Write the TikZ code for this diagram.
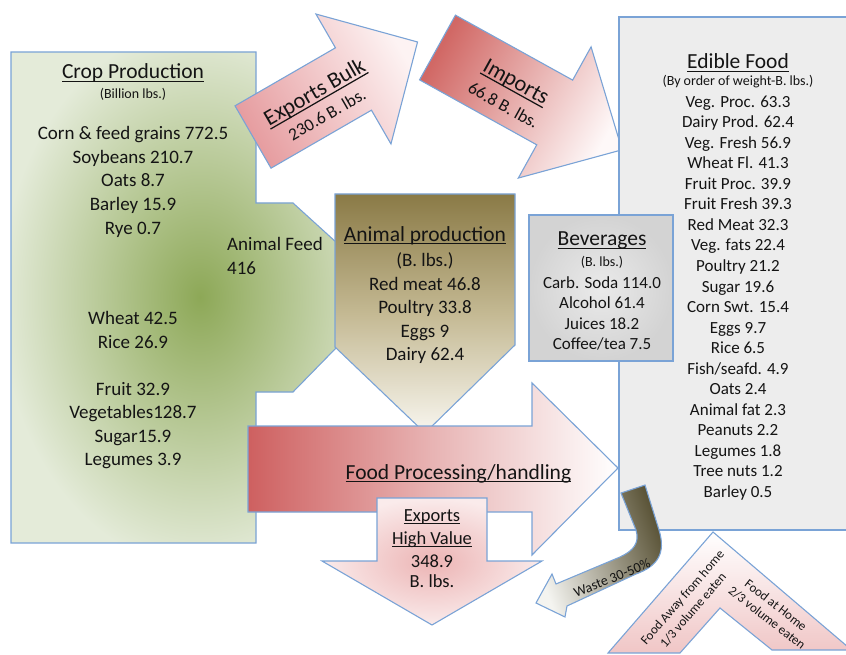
\documentclass[tikz,border=0pt]{standalone}
\usepackage{fontspec}
\setmainfont{Carlito}
\usetikzlibrary{shadings}
\definecolor{bline}{HTML}{7AA3D6}
\definecolor{tcol}{HTML}{141414}
\definecolor{cropin}{HTML}{8DA857}
\definecolor{cropout}{HTML}{E4EBD9}
\definecolor{edible}{HTML}{EDEDED}
\definecolor{bevin}{HTML}{EAEAEA}
\definecolor{bevout}{HTML}{D3D3D3}
\definecolor{animtop}{HTML}{8A7A46}
\definecolor{animmid}{HTML}{C4B993}
\definecolor{animbot}{HTML}{F8F6EF}
\definecolor{fpl}{HTML}{CE6060}
\definecolor{fpm}{HTML}{E8B4B4}
\definecolor{fpr}{HTML}{FFFFFF}
\definecolor{ebl}{HTML}{E69DA0}
\definecolor{ebr}{HTML}{FDF3F3}
\definecolor{iml}{HTML}{D16865}
\definecolor{imr}{HTML}{FEF8F8}
\definecolor{ehin}{HTML}{ECB4B4}
\definecolor{ehout}{HTML}{FAEBEB}
\definecolor{wdark}{HTML}{575033}
\definecolor{wlight}{HTML}{F4F4F0}
\definecolor{chtop}{HTML}{FFFFFF}
\definecolor{chbot}{HTML}{F0C6C6}
\newcommand{\ulx}[1]{\setbox0=\hbox{#1}\rlap{\rule[-0.16em]{\wd0}{0.055em}}\box0}
\newcommand{\szTitle}{\fontsize{21.5}{24}\selectfont}
\newcommand{\szArrow}{\fontsize{22.5}{26}\selectfont}
\newcommand{\szBig}{\fontsize{19}{22}\selectfont}
\newcommand{\szEH}{\fontsize{18.5}{22}\selectfont}
\newcommand{\szMid}{\fontsize{17}{20}\selectfont}
\newcommand{\szArrowSub}{\fontsize{17.5}{20}\selectfont}
\newcommand{\szSmall}{\fontsize{14}{16}\selectfont}
\newcommand{\szTiny}{\fontsize{13}{15.5}\selectfont}
\tikzset{
  edge/.style={draw=bline, line width=1.1pt, line join=miter},
  txt/.style={inner sep=0pt, text=tcol, anchor=base},
  rtxt/.style={inner sep=0pt, text=tcol, anchor=center},
}
\begin{document}
\begin{tikzpicture}[x=1pt,y=-1pt]
\useasboundingbox (0,0) rectangle (846,655);

% ---------- Crop production (green) ----------
\begin{scope}
  \clip (11,52) -- (256,52) -- (256,203) -- (293,203) -- (337,243) -- (337,347)
        -- (293,392) -- (256,392) -- (256,543) -- (11,543) -- cycle;
  \fill[cropout] (0,40) rectangle (350,560);
  \shade[inner color=cropin, outer color=cropout] (200,297) ellipse (200 and 270);
\end{scope}
\draw[edge] (11,52) -- (256,52) -- (256,203) -- (293,203) -- (337,243) -- (337,347)
        -- (293,392) -- (256,392) -- (256,543) -- (11,543) -- cycle;

% ---------- Exports bulk arrow ----------
\begin{scope}[shift={(253,137)}, rotate=30]
  \path[edge, left color=ebl, right color=ebr, shading angle=120]
    (0,-36) -- (116,-36) -- (116,-75) -- (190,0) -- (116,75) -- (116,36) -- (0,36) -- cycle;
\end{scope}

% ---------- Imports arrow ----------
\begin{scope}[shift={(437.5,47.5)}, rotate=-29]
  \path[edge, left color=iml, right color=imr, shading angle=61]
    (0,-37) -- (134,-37) -- (134,-75) -- (211,0) -- (134,75) -- (134,37) -- (0,37) -- cycle;
\end{scope}

% ---------- Edible food box ----------
\path[edge, fill=edible] (619,17) rectangle (852,530);

% ---------- Beverages ----------
\path[edge, inner color=bevin, outer color=bevout] (529,215) rectangle (673,361);

% ---------- Animal production ----------
\path[edge, top color=animtop, bottom color=animbot, middle color=animmid]
  (335,194) -- (515,194) -- (515,345) -- (425,433) -- (335,347) -- cycle;

% ---------- Food processing arrow ----------
\path[edge, left color=fpl, right color=fpr, middle color=fpm]
  (248,426) -- (532,426) -- (532,383) -- (618,468) -- (532,555) -- (532,512) -- (248,512) -- cycle;

% ---------- Exports high value ----------
\path[edge, inner color=ehin, outer color=ehout]
  (377,498) -- (487,498) -- (487,561) -- (542,561) -- (432,625) -- (322,561) -- (377,561) -- cycle;

% ---------- Waste arrow ----------
\path[edge, left color=wlight, right color=wdark, shading angle=110]
  (621,493) -- (645,485) -- (659,530) .. controls (666,553) and (658,566) .. (636,574)
  -- (567,606) -- (565,617) -- (536,603) -- (552,574) -- (556,584)
  -- (620,557) .. controls (633,551) and (640,543) .. (636,530) -- cycle;

% ---------- Home chevron ----------
\path[edge, top color=chtop, bottom color=chbot]
  (608,653) -- (713,532) -- (848,647) -- (848,650) -- (772,650) -- (720,608) -- (680,653) -- cycle;

% ---------- Crop texts ----------
\node[txt, font=\szTitle] (cropT) at (133,79) {\ulx{Crop Production}};
\node[txt, font=\szSmall] (cropU) at (133,99) {(Billion lbs.)};
\node[txt, font=\szBig] (crop1) at (133,140) {Corn \& feed grains 772.5};
\node[txt, font=\szBig] (crop2) at (133,163.5) {Soybeans 210.7};
\node[txt, font=\szBig] (crop3) at (133,187) {Oats 8.7};
\node[txt, font=\szBig] (crop4) at (133,210.5) {Barley 15.9};
\node[txt, font=\szBig] (crop5) at (133,234) {Rye 0.7};
\node[txt, font=\szBig, anchor=base west] (feed1) at (227,251) {Animal Feed};
\node[txt, font=\szBig, anchor=base west] (feed2) at (227,274) {416};
\node[txt, font=\szBig] (crop6) at (133,324) {Wheat 42.5};
\node[txt, font=\szBig] (crop7) at (133,348) {Rice 26.9};
\node[txt, font=\szBig] (crop8) at (133,395) {Fruit 32.9};
\node[txt, font=\szBig] (crop9) at (133,418) {Vegetables128.7};
\node[txt, font=\szBig] (crop10) at (133,442) {Sugar15.9};
\node[txt, font=\szBig] (crop11) at (133,465) {Legumes 3.9};

% ---------- Arrow texts ----------
\node[rtxt, font=\szArrow, rotate=30] (ebT) at (315,93) {\ulx{Exports Bulk}};
\node[rtxt, font=\szArrowSub, rotate=30] (ebU) at (327,114.5) {230.6 B. lbs.};
\node[rtxt, font=\szArrow, rotate=-29] (imT) at (515.5,83) {\ulx{Imports}};
\node[rtxt, font=\szArrowSub, rotate=-29] (imU) at (503.5,105) {66.8 B. lbs.};

% ---------- Edible food texts ----------
\node[txt, font=\szTitle] (edT) at (738,69) {\ulx{Edible Food}};
\node[txt, font=\szSmall] (edU) at (738,86) {(By order of weight-B. lbs.)};
\foreach \t [count=\i from 0] in {Veg. Proc. 63.3, Dairy Prod. 62.4, Veg. Fresh 56.9,
  Wheat Fl. 41.3, Fruit Proc. 39.9, Fruit Fresh 39.3, Red Meat 32.3, Veg. fats 22.4,
  Poultry 21.2, Sugar 19.6, Corn Swt. 15.4, Eggs 9.7, Rice 6.5, Fish/seafd. 4.9,
  Oats 2.4, Animal fat 2.3, Peanuts 2.2, Legumes 1.8, Tree nuts 1.2, Barley 0.5}
  \node[txt, font=\szMid] (ed\i) at (738,107.5+20.5*\i) {\t};

% ---------- Animal production texts ----------
\node[txt, font=\szTitle] (anT) at (425,241) {\ulx{Animal production}};
\node[txt, font=\szBig] (anU) at (425,266.5) {(B. lbs.)};
\node[txt, font=\szBig] (an1) at (425,290.5) {Red meat 46.8};
\node[txt, font=\szBig] (an2) at (425,313.8) {Poultry 33.8};
\node[txt, font=\szBig] (an3) at (425,337.1) {Eggs 9};
\node[txt, font=\szBig] (an4) at (425,360.4) {Dairy 62.4};

% ---------- Beverages texts ----------
\node[txt, font=\szTitle] (bvT) at (602,246) {\ulx{Beverages}};
\node[txt, font=\szSmall] (bvU) at (602,266) {(B. lbs.)};
\node[txt, font=\szMid] (bv1) at (602,288) {Carb. Soda 114.0};
\node[txt, font=\szMid] (bv2) at (602,308.5) {Alcohol 61.4};
\node[txt, font=\szMid] (bv3) at (602,329) {Juices 18.2};
\node[txt, font=\szMid] (bv4) at (602,349.5) {Coffee/tea 7.5};

% ---------- Food processing / exports high value ----------
\node[txt, font=\szTitle] (fpT) at (458.5,479) {\ulx{Food Processing/handling}};
\node[txt, font=\szEH] (eh1) at (432,521) {\ulx{Exports}};
\node[txt, font=\szEH] (eh2) at (432,544.5) {\ulx{High Value}};
\node[txt, font=\szEH] (eh3) at (432,567) {348.9};
\node[txt, font=\szEH] (eh4) at (432,587) {B. lbs.};

% ---------- Waste and home texts ----------
\node[rtxt, font=\szSmall, rotate=22] (waste) at (612,578) {Waste 30-50\%};
\node[rtxt, font=\szTiny, rotate=49] (away1) at (683,598) {Food Away from home};
\node[rtxt, font=\szTiny, rotate=49] (away2) at (693,610) {1/3 volume eaten};
\node[rtxt, font=\szTiny, rotate=-38] (home1) at (776,605) {Food at Home};
\node[rtxt, font=\szTiny, rotate=-38] (home2) at (767,618) {2/3 volume eaten};
\end{tikzpicture}
\end{document}
